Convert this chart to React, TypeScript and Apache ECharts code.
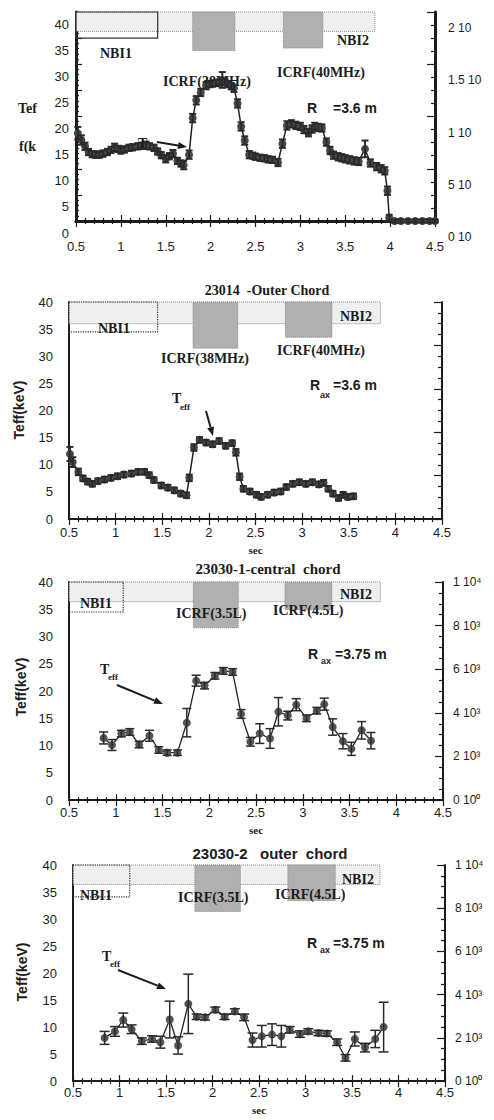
import React, { useEffect, useRef } from 'react';
import * as echarts from 'echarts';

// ---------- Panel 1 (central chord, top, cropped) ----------
const p1Time = [0.52, 0.56, 0.6, 0.64, 0.68, 0.72, 0.76, 0.8, 0.85, 0.89, 0.93, 0.97, 1.0, 1.04, 1.09, 1.13, 1.19, 1.23, 1.28, 1.32, 1.37, 1.41, 1.45, 1.5, 1.54, 1.58, 1.63, 1.67, 1.7, 1.76, 1.8, 1.84, 1.89, 1.95, 1.99, 2.02, 2.06, 2.1, 2.13, 2.16, 2.19, 2.23, 2.26, 2.3, 2.34, 2.38, 2.43, 2.47, 2.5, 2.55, 2.6, 2.64, 2.69, 2.75, 2.8, 2.85, 2.9, 2.95, 3.0, 3.04, 3.09, 3.13, 3.16, 3.2, 3.24, 3.29, 3.33, 3.37, 3.42, 3.46, 3.5, 3.55, 3.6, 3.65, 3.72, 3.78, 3.85, 3.9, 3.94, 3.97, 3.99, 4.05, 4.12, 4.2, 4.28, 4.36, 4.44, 4.5];
const p1Teff = [16.8, 15.5, 14.3, 13.2, 12.8, 12.7, 12.7, 12.9, 13.2, 13.6, 14.1, 13.8, 13.5, 13.7, 14.0, 14.1, 14.3, 14.4, 14.5, 14.3, 14.0, 13.3, 12.6, 11.9, 12.4, 12.9, 11.5, 11.0, 10.7, 12.7, 19.7, 23.1, 24.6, 25.9, 26.2, 26.3, 26.4, 26.5, 27.0, 26.6, 26.2, 25.8, 25.4, 22.5, 18.1, 15.4, 12.7, 12.5, 12.3, 12.1, 12.0, 11.8, 11.7, 11.2, 14.8, 18.3, 18.6, 18.3, 18.1, 17.5, 16.9, 17.6, 18.1, 17.9, 17.8, 15.1, 13.5, 12.6, 12.3, 12.1, 11.9, 11.7, 11.5, 11.4, 13.8, 11.1, 10.4, 10.0, 9.6, 5.8, 0.6, 0, 0, 0, 0, 0, 0, 0];
const p1Err = [1.2, 0.9, 0.7, 0.6, 0.6, 0.6, 0.6, 0.6, 0.6, 0.6, 0.7, 0.6, 0.6, 0.6, 0.6, 0.6, 0.6, 0.6, 0.7, 0.6, 0.6, 0.6, 0.6, 0.7, 0.6, 0.7, 0.6, 0.6, 0.8, 0.8, 0.8, 0.8, 0.7, 0.7, 0.6, 0.6, 0.6, 0.6, 1.5, 0.6, 0.6, 0.6, 0.7, 0.8, 0.8, 0.8, 0.7, 0.6, 0.6, 0.6, 0.6, 0.6, 0.6, 0.7, 0.8, 0.8, 0.7, 0.7, 0.7, 0.7, 0.7, 0.7, 0.7, 0.7, 0.7, 0.7, 0.7, 0.7, 0.7, 0.7, 0.7, 0.7, 0.7, 0.7, 1.6, 0.7, 0.7, 0.7, 0.7, 0.8, 0.6, 0.3, 0.3, 0.3, 0.3, 0.3, 0.3, 0.3];

// ---------- Panel 2: 23014 -Outer Chord ----------
const p2Time = [0.51, 0.54, 0.6, 0.65, 0.7, 0.75, 0.81, 0.88, 0.95, 1.02, 1.09, 1.17, 1.24, 1.31, 1.36, 1.41, 1.49, 1.56, 1.63, 1.7, 1.76, 1.79, 1.84, 1.9, 1.97, 2.04, 2.11, 2.18, 2.25, 2.29, 2.33, 2.37, 2.44, 2.51, 2.56, 2.63, 2.7, 2.77, 2.83, 2.9, 2.97, 3.04, 3.11, 3.18, 3.23, 3.28, 3.33, 3.39, 3.44, 3.49, 3.55];
const p2Teff = [12.0, 10.5, 8.7, 7.5, 6.9, 6.5, 7.0, 7.3, 7.6, 7.9, 8.2, 8.4, 8.7, 8.7, 8.1, 7.2, 6.2, 5.8, 5.3, 4.7, 4.4, 7.6, 13.2, 14.6, 14.1, 13.8, 14.4, 13.5, 14.0, 12.3, 7.8, 5.6, 5.1, 4.5, 4.1, 4.5, 4.9, 5.1, 5.9, 6.5, 6.8, 6.5, 6.8, 6.4, 6.7, 5.6, 4.7, 3.9, 4.5, 4.1, 4.2];
const p2Err = [1.3, 0.9, 0.6, 0.5, 0.5, 0.5, 0.5, 0.5, 0.5, 0.5, 0.5, 0.5, 0.5, 0.5, 0.5, 0.5, 0.5, 0.5, 0.5, 0.5, 0.5, 0.6, 0.6, 0.5, 0.5, 0.5, 0.5, 0.5, 0.5, 0.6, 0.6, 0.5, 0.5, 0.5, 0.5, 0.5, 0.5, 0.5, 0.5, 0.5, 0.5, 0.5, 0.5, 0.5, 0.5, 0.5, 0.5, 0.5, 0.5, 0.5, 0.5];

// ---------- Panel 3: 23030-1-central chord ----------
const p3Time = [0.87, 0.96, 1.06, 1.15, 1.25, 1.36, 1.46, 1.55, 1.66, 1.76, 1.86, 1.95, 2.06, 2.15, 2.25, 2.34, 2.44, 2.54, 2.65, 2.74, 2.84, 2.93, 3.04, 3.15, 3.23, 3.32, 3.43, 3.52, 3.63, 3.73];
const p3Teff = [11.4, 10.1, 12.2, 12.5, 10.2, 11.8, 9.2, 8.7, 8.7, 14.2, 21.9, 21.0, 22.8, 23.7, 23.5, 15.8, 10.7, 12.2, 11.3, 16.2, 15.5, 17.5, 15.0, 16.4, 17.6, 13.4, 10.8, 9.4, 12.8, 10.9];
const p3Err = [1.1, 1.0, 0.6, 0.6, 0.6, 1.0, 0.6, 0.5, 0.5, 2.6, 1.0, 0.6, 0.6, 0.6, 0.6, 0.8, 0.8, 1.8, 1.8, 2.6, 0.8, 1.1, 0.6, 0.6, 1.1, 1.5, 1.4, 1.2, 1.6, 1.5];

// ---------- Panel 4: 23030-2 outer chord ----------
const p4Time = [0.84, 0.95, 1.04, 1.13, 1.24, 1.35, 1.44, 1.54, 1.63, 1.74, 1.83, 1.92, 2.03, 2.13, 2.24, 2.34, 2.43, 2.53, 2.64, 2.74, 2.83, 2.94, 3.03, 3.14, 3.23, 3.34, 3.43, 3.53, 3.64, 3.75, 3.84];
const p4Teff = [8.0, 9.2, 11.3, 9.6, 7.4, 7.8, 7.2, 11.4, 6.6, 14.3, 11.9, 11.8, 13.2, 11.9, 12.9, 11.8, 7.6, 8.3, 8.6, 8.3, 9.5, 8.7, 9.2, 8.9, 8.8, 7.2, 4.3, 7.8, 6.2, 7.8, 10.0];
const p4Err = [1.2, 0.9, 1.3, 0.8, 0.6, 0.6, 1.1, 3.4, 1.6, 5.5, 0.5, 0.5, 0.5, 0.5, 0.5, 0.6, 1.3, 2.0, 2.0, 2.0, 0.6, 0.6, 0.5, 0.5, 0.5, 0.6, 0.6, 1.3, 0.8, 1.6, 4.6];

// Heating-period annotations: [tStart, tEnd, yBottom]
const p1Blocks = { band: [0.5, 3.83, 36.3], nbi1: [0.5, 1.41, 35], icrf1: [1.8, 2.27, 32.6], icrf2: [2.81, 3.25, 33.1] };
const p2Blocks = { band: [0.5, 3.84, 36], nbi1: [0.5, 1.45, 34.5], icrf1: [1.83, 2.31, 31.5], icrf2: [2.82, 3.32, 33.5] };
const p3Blocks = { band: [0.5, 3.83, 36.4], nbi1: [0.5, 1.08, 34.5], icrf1: [1.83, 2.31, 31.6], icrf2: [2.81, 3.31, 34.9] };
const p4Blocks = { band: [0.5, 3.8, 36.4], nbi1: [0.5, 1.11, 34.1], icrf1: [1.81, 2.3, 31.4], icrf2: [2.81, 3.32, 33.4] };

const xTicks = [0.5, 4.5, 0.5];
const leftTicks = [0, 40, 5];
const rightTicksLog = [0, 10000, 2000];
const rightLabelsPow: Record<number, string> = { 10000: '1 10⁴', 8000: '8 10³', 6000: '6 10³', 4000: '4 10³', 2000: '2 10³', 0: '0 10⁰' };
const rightTicksP1 = [0, 2, 0.5];
const rightLabelsP1: Record<number, string> = { 2: '2 10', 1.5: '1.5 10', 1: '1 10', 0.5: '5 10', 0: '0 10' };

const SANS = '"Liberation Sans", Arial, sans-serif';
const SERIF = '"Liberation Serif", "Times New Roman", serif';
const INK = '#1c1c1c';

const txt = (x: number, y: number, text: string, font: string, extra: any = {}) => ({
  type: 'text', x, y, z: 100,
  style: { text, font, fill: INK, textAlign: 'left', textVerticalAlign: 'middle', ...extra },
});

const arrow = (x1: number, y1: number, x2: number, y2: number) => {
  const a = Math.atan2(y2 - y1, x2 - x1);
  const L = 9, W = 3.5;
  const bx = x2 - L * Math.cos(a), by = y2 - L * Math.sin(a);
  return [
    { type: 'line', z: 100, shape: { x1, y1, x2: bx, y2: by }, style: { stroke: INK, lineWidth: 2 } },
    {
      type: 'polygon', z: 100,
      shape: { points: [[x2, y2], [bx + W * Math.sin(a), by - W * Math.cos(a)], [bx - W * Math.sin(a), by + W * Math.cos(a)]] },
      style: { fill: INK },
    },
  ];
};

const errRender = (capW: number, lw: number) => (params: any, api: any) => {
  const x = api.value(0), y = api.value(1), e = api.value(2);
  const t = api.coord([x, y + e]);
  const b = api.coord([x, y - e]);
  const style = { stroke: '#2a2a2a', lineWidth: lw };
  return {
    type: 'group',
    children: [
      { type: 'line', shape: { x1: t[0], y1: t[1], x2: b[0], y2: b[1] }, style },
      { type: 'line', shape: { x1: t[0] - capW, y1: t[1], x2: t[0] + capW, y2: t[1] }, style },
      { type: 'line', shape: { x1: b[0] - capW, y1: b[1], x2: b[0] + capW, y2: b[1] }, style },
    ],
  };
};

function blockAreas(bl: any, nbiSolid: boolean) {
  const mk = (r: number[], style: any) => [
    { xAxis: r[0], yAxis: 40, itemStyle: style },
    { xAxis: r[1], yAxis: r[2] },
  ];
  return [
    mk(bl.band, { color: '#efefef', borderColor: '#888', borderWidth: 1, borderType: 'dotted' }),
    mk(bl.nbi1, { color: 'rgba(0,0,0,0)', borderColor: '#333', borderWidth: 1.2, borderType: nbiSolid ? 'solid' : 'dotted' }),
    mk(bl.icrf1, { color: '#b0b0b0', borderColor: '#888', borderWidth: 1, borderType: 'dotted' }),
    mk(bl.icrf2, { color: '#b0b0b0', borderColor: '#888', borderWidth: 1, borderType: 'dotted' }),
  ];
}

function buildOption(cfg: any) {
  const fw = cfg.frameW;
  const axLine = { show: true, lineStyle: { color: INK, width: fw } };
  const tickStyle = { color: INK, width: 1.2 };
  const xBase = {
    type: 'value', min: xTicks[0], max: xTicks[1], interval: xTicks[2],
    axisLine: axLine, splitLine: { show: false },
    axisTick: { show: true, inside: true, length: 6, lineStyle: tickStyle },
    minorTick: { show: true, splitNumber: 5, length: 3, lineStyle: tickStyle },
  };
  const shifted = (s: number) => (s ? { verticalAlign: 'top', lineHeight: s * 2 } : {});
  return {
    animation: false,
    grid: cfg.grid,
    xAxis: [
      {
        ...xBase, position: 'bottom',
        axisLabel: { fontFamily: SANS, fontSize: 13, color: INK, margin: cfg.xLabelMargin },
        name: cfg.secGap ? 'sec' : '', nameLocation: 'middle', nameGap: cfg.secGap || 0,
        nameTextStyle: { fontFamily: SERIF, fontWeight: 'bold', fontSize: 11, color: INK },
      },
      { ...xBase, position: 'top', axisLabel: { show: false } },
    ],
    yAxis: [
      {
        type: 'value', position: 'left', min: leftTicks[0], max: leftTicks[1], interval: leftTicks[2],
        axisLine: axLine, splitLine: { show: false },
        axisTick: { show: cfg.leftTicks, inside: true, length: 6, lineStyle: tickStyle },
        minorTick: { show: cfg.leftTicks, splitNumber: 5, length: 3, lineStyle: tickStyle },
        axisLabel: { fontFamily: SANS, fontSize: 13, color: INK, margin: cfg.yLabelMargin, ...shifted(cfg.leftShift) },
      },
      {
        type: 'value', position: 'right', min: cfg.right[0], max: cfg.right[1], interval: cfg.right[2],
        axisLine: axLine, splitLine: { show: false },
        axisTick: { show: true, inside: true, length: 8, lineStyle: tickStyle },
        minorTick: { show: true, splitNumber: 4, length: 4, lineStyle: tickStyle },
        axisLabel: {
          show: !!cfg.rightLabels, fontFamily: SANS, fontSize: 12, color: INK, margin: cfg.rightMargin,
          ...shifted(cfg.rightShift),
          formatter: (v: number) => (cfg.rightLabels ? cfg.rightLabels[v] ?? '' : ''),
        },
      },
    ],
    series: [
      {
        type: 'line', xAxisIndex: 0, yAxisIndex: 0, z: 3,
        data: cfg.time.map((t: number, i: number) => [t, cfg.teff[i]]),
        symbol: 'circle', symbolSize: cfg.sym, showSymbol: true,
        itemStyle: { color: cfg.symColor },
        lineStyle: { color: '#222', width: cfg.lineW },
        markArea: { silent: true, data: blockAreas(cfg.blocks, cfg.nbiSolid) },
      },
      {
        type: 'custom', xAxisIndex: 0, yAxisIndex: 0, z: 4, silent: true,
        data: cfg.time.map((t: number, i: number) => [t, cfg.teff[i], cfg.err[i]]),
        encode: { x: 0, y: 1 },
        renderItem: errRender(cfg.cap, cfg.errW),
      },
    ],
    graphic: cfg.graphic,
  };
}

const serifB = (s: number) => `bold ${s}px ${SERIF}`;
const sansB = (s: number) => `bold ${s}px ${SANS}`;

const yName = (x: number, y: number) => ({
  type: 'text', x, y, rotation: Math.PI / 2, z: 100,
  style: { text: 'Teff(keV)', font: sansB(14), fill: INK, textAlign: 'center', textVerticalAlign: 'middle' },
});

const panels = [
  {
    top: 0, height: 253,
    cfg: {
      grid: { left: 76, right: 59, top: 12, bottom: 25 },
      frameW: 3, leftTicks: true, leftShift: 12, yLabelMargin: 7, xLabelMargin: 19,
      right: rightTicksP1, rightLabels: rightLabelsP1, rightMargin: 13, rightShift: 16,
      time: p1Time, teff: p1Teff, err: p1Err, sym: 8, symColor: '#474747', cap: 3.5, errW: 2, lineW: 1.5,
      blocks: p1Blocks, nbiSolid: true, secGap: 0,
      graphic: [
        txt(18, 108, 'Tef', serifB(14)),
        txt(19, 146, 'f(k', serifB(14)),
        txt(100, 53, 'NBI1', serifB(14)),
        txt(337, 40, 'NBI2', serifB(14)),
        { ...txt(163, 81, 'ICRF(38MHz)', serifB(14)), z: 1 },
        txt(277, 72, 'ICRF(40MHz)', serifB(14)),
        txt(307, 108, 'R', sansB(14)),
        txt(333, 108, '=3.6 m', sansB(14)),
        txt(138, 143, 'T', serifB(14)),
        ...arrow(157, 142, 187, 147),
      ],
    },
  },
  {
    top: 255, height: 305,
    cfg: {
      grid: { left: 69, right: 52, top: 47, bottom: 39 },
      frameW: 2, leftTicks: false, leftShift: 0, yLabelMargin: 16, xLabelMargin: 7,
      right: rightTicksLog, rightLabels: null, rightMargin: 10, rightShift: 0,
      time: p2Time, teff: p2Teff, err: p2Err, sym: 8, symColor: '#474747', cap: 3.5, errW: 2, lineW: 1.5,
      blocks: p2Blocks, nbiSolid: false, secGap: 24,
      graphic: [
        { type: 'text', x: 267, y: 35, z: 100, style: { text: '23014  -Outer Chord', font: serifB(14), fill: INK, textAlign: 'center', textVerticalAlign: 'middle' } },
        yName(19, 155),
        txt(98, 73, 'NBI1', serifB(14)),
        txt(340, 61, 'NBI2', serifB(14)),
        txt(161, 103, 'ICRF(38MHz)', serifB(14)),
        txt(277, 95, 'ICRF(40MHz)', serifB(14)),
        txt(310, 130, 'R', sansB(14)),
        txt(320, 140, 'ax', sansB(9)),
        txt(333, 130, '=3.6 m', sansB(14)),
        txt(172, 143, 'T', serifB(14)),
        txt(180, 152, 'eff', serifB(9)),
        ...arrow(206, 156, 213, 181),
      ],
    },
  },
  {
    top: 560, height: 280,
    cfg: {
      grid: { left: 69, right: 51, top: 22, bottom: 38 },
      frameW: 2, leftTicks: false, leftShift: 0, yLabelMargin: 16, xLabelMargin: 6,
      right: rightTicksLog, rightLabels: rightLabelsPow, rightMargin: 10, rightShift: 0,
      time: p3Time, teff: p3Teff, err: p3Err, sym: 8, symColor: '#555', cap: 4.5, errW: 1.5, lineW: 1.3,
      blocks: p3Blocks, nbiSolid: false, secGap: 21,
      graphic: [
        { type: 'text', x: 268, y: 9, z: 100, style: { text: '23030-1-central  chord', font: serifB(15), fill: INK, textAlign: 'center', textVerticalAlign: 'middle' } },
        yName(21, 127),
        txt(80, 43, 'NBI1', serifB(14)),
        txt(340, 34, 'NBI2', serifB(14)),
        txt(176, 53, 'ICRF(3.5L)', serifB(14)),
        txt(273, 50, 'ICRF(4.5L)', serifB(14)),
        txt(308, 94, 'R', sansB(14)),
        txt(321, 101, 'ax', sansB(9)),
        txt(335, 94, '=3.75 m', sansB(14)),
        txt(100, 109, 'T', serifB(14)),
        txt(108, 117, 'eff', serifB(9)),
        ...arrow(117, 125, 163, 144),
      ],
    },
  },
  {
    top: 840, height: 280,
    cfg: {
      grid: { left: 73, right: 49, top: 25, bottom: 32 },
      frameW: 2, leftTicks: false, leftShift: 0, yLabelMargin: 16, xLabelMargin: 5,
      right: rightTicksLog, rightLabels: rightLabelsPow, rightMargin: 10, rightShift: 0,
      time: p4Time, teff: p4Teff, err: p4Err, sym: 8, symColor: '#555', cap: 5, errW: 1.5, lineW: 1.3,
      blocks: p4Blocks, nbiSolid: false, secGap: 22,
      graphic: [
        { type: 'text', x: 270, y: 13, z: 100, style: { text: '23030-2   outer  chord', font: sansB(15), fill: INK, textAlign: 'center', textVerticalAlign: 'middle' } },
        yName(22, 132),
        txt(80, 55, 'NBI1', serifB(14)),
        txt(342, 39, 'NBI2', serifB(14)),
        txt(178, 57, 'ICRF(3.5L)', serifB(14)),
        txt(275, 54, 'ICRF(4.5L)', serifB(14)),
        txt(307, 103, 'R', sansB(14)),
        txt(320, 110, 'ax', sansB(9)),
        txt(333, 103, '=3.75 m', sansB(14)),
        txt(102, 116, 'T', serifB(14)),
        txt(110, 124, 'eff', serifB(9)),
        ...arrow(118, 130, 166, 149),
      ],
    },
  },
];

function Panel({ top, height, cfg }: { top: number; height: number; cfg: any }) {
  const ref = useRef<HTMLDivElement>(null);
  useEffect(() => {
    if (!ref.current) return;
    const chart = echarts.init(ref.current, null, { renderer: 'svg' });
    chart.setOption(buildOption(cfg) as any);
    return () => chart.dispose();
  }, [cfg]);
  return (
    <div
      ref={ref}
      style={{ position: 'absolute', left: 0, top, width: 494, height, overflow: 'hidden' }}
    />
  );
}

export default function App() {
  return (
    <div style={{ position: 'absolute', left: 0, top: 0, width: 494, height: 1120, background: '#fff', overflow: 'hidden' }}>
      {panels.map((p, i) => (
        <Panel key={i} top={p.top} height={p.height} cfg={p.cfg} />
      ))}
    </div>
  );
}
